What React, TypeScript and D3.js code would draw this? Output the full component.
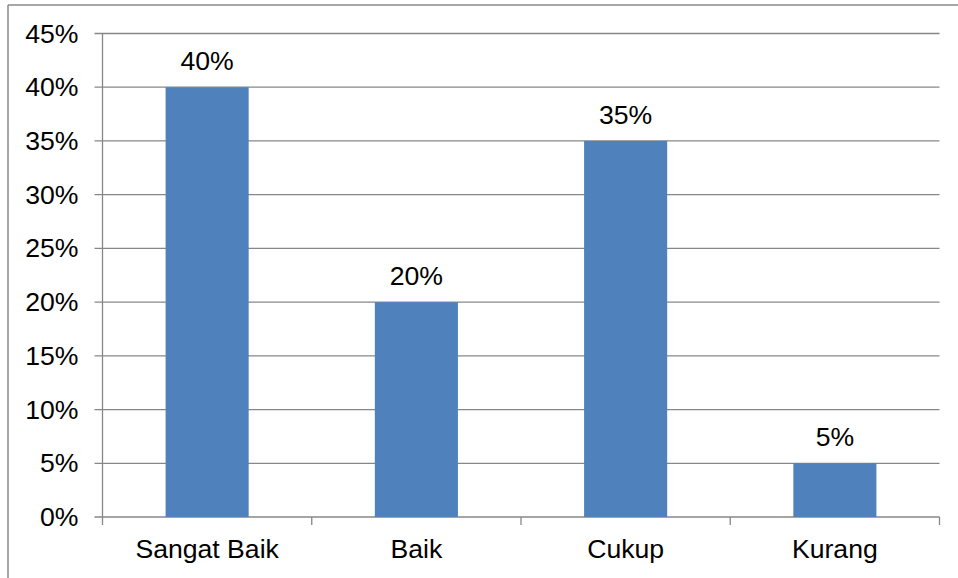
import React from "react";
import * as d3 from "d3";

const categories = ["Sangat Baik", "Baik", "Cukup", "Kurang"];
const values = [0.40, 0.20, 0.35, 0.05];
const yTicks = [0, 0.05, 0.1, 0.15, 0.2, 0.25, 0.3, 0.35, 0.4, 0.45];

const W = 958;
const H = 578;
const left = 102.5;
const right = 939.5;
const top = 33.5;
const bottom = 517;

const font = "'Liberation Sans', Arial, sans-serif";

function T({ x, y, anchor, dy, children }: { x: number; y: number; anchor: string; dy?: string; children: React.ReactNode }) {
  return (
    <text
      transform={`translate(${x},${y}) scale(1.065,1)`}
      dy={dy}
      textAnchor={anchor}
      fontFamily={font}
      fontSize={25}
      fill="#000"
    >
      {children}
    </text>
  );
}

export default function App() {
  const x = d3.scaleBand<string>().domain(categories).range([left, right]).padding(0);
  const y = d3.scaleLinear().domain([0, 0.45]).range([bottom, top]);
  const barW = x.step() * 0.397;
  const fmt = d3.format(".0%");
  const grid = "#878787";

  return (
    <svg width={W} height={H} style={{ position: "absolute", left: 0, top: 0 }}>
      <rect width={W} height={H} fill="#fff" />
      <line x1={8} x2={W} y1={5} y2={5} stroke="#888" strokeWidth={1.5} />
      <line x1={8} x2={8} y1={5} y2={H} stroke="#888" strokeWidth={1.5} />
      {yTicks.map((t) => (
        <g key={t}>
          <line x1={left - 8} x2={right} y1={y(t)} y2={y(t)} stroke={grid} strokeWidth={1.3} />
          <T x={78.5} y={y(t)} dy="0.36em" anchor="end">
            {fmt(t)}
          </T>
        </g>
      ))}
      <line x1={left} x2={left} y1={top} y2={bottom + 8} stroke={grid} strokeWidth={1.3} />
      {categories.map((c) => (
        <line key={"t" + c} x1={x(c)! + x.step()} x2={x(c)! + x.step()} y1={bottom} y2={bottom + 8} stroke={grid} strokeWidth={1.3} />
      ))}
      {categories.map((c, i) => {
        const cx = x(c)! + x.step() / 2;
        return (
          <g key={c}>
            <rect x={cx - barW / 2} y={y(values[i])} width={barW} height={bottom - y(values[i])} fill="#4F81BD" />
            <T x={cx} y={y(values[i]) - 17} anchor="middle">
              {fmt(values[i])}
            </T>
            <T x={cx} y={558} anchor="middle">
              {c}
            </T>
          </g>
        );
      })}
    </svg>
  );
}
